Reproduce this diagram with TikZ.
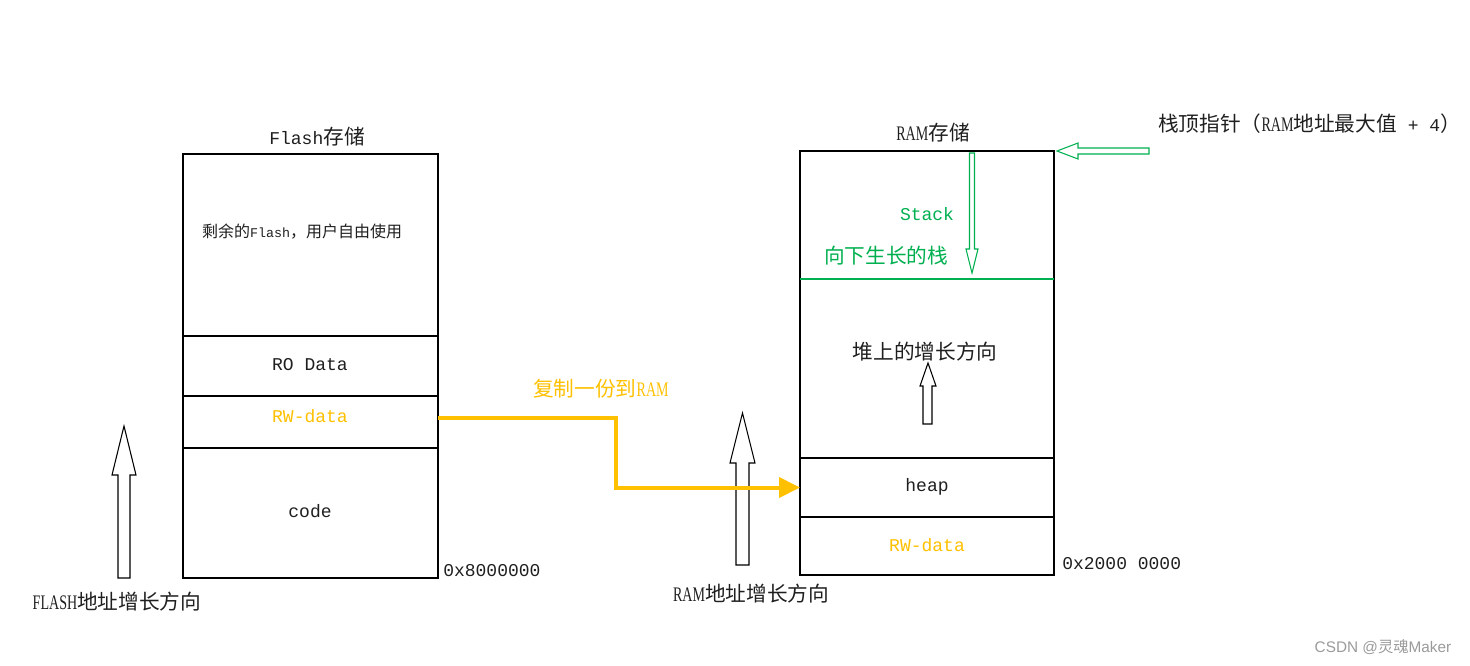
\documentclass[tikz,border=0pt]{standalone}
\usepackage{fontspec}
\setmainfont{Liberation Serif}
\setmonofont{Liberation Mono}
\setsansfont{Liberation Sans}
\newfontfamily\cjk{Noto Sans CJK SC}
\newfontfamily\narrowserif[FakeStretch=0.68]{Liberation Serif}
\newcommand\zh[1]{{\cjk\fontsize{15.5}{18}\selectfont #1}}
\newcommand\zhs[1]{{\cjk\fontsize{12}{14}\selectfont #1}}
\newcommand\lt[1]{{\narrowserif\fontsize{15.5}{18}\selectfont #1}}
\usetikzlibrary{arrows.meta,calc}
\definecolor{gold}{HTML}{FFC000}
\definecolor{grn}{HTML}{00B050}
\definecolor{wm}{HTML}{9A9A9A}
\begin{document}
\begin{tikzpicture}[x=0.75pt,y=-0.75pt,
  sect/.style={draw=black, line width=0.8pt, inner sep=0pt, outer sep=0pt, anchor=north west},
  flashw/.style={minimum width=191.25pt},
  ramw/.style={minimum width=190.5pt},
  lbl/.style={inner sep=0pt, text=black!88, font=\ttfamily\fontsize{13.5}{16}\selectfont},
  small/.style={inner sep=0pt, text=black!88, font=\ttfamily\fontsize{10}{12}\selectfont},
  hollow/.style={draw=black, line width=0.8pt, fill=white, line join=miter},
  ghollow/.style={draw=grn, line width=0.8pt, fill=white, line join=miter},
  conn/.style={draw=gold, line width=3pt, -{Triangle[length=15.75pt,width=15pt]}}
]
\useasboundingbox (0,0) rectangle (1470,665);

% Flash column
\node[sect, flashw, minimum height=136.5pt] (free) at (183,154) {};
\node[sect, flashw, minimum height=45pt] (ro) at (183,336) {};
\node[sect, flashw, minimum height=39pt] (rw) at (183,396) {};
\node[sect, flashw, minimum height=97.5pt] (code) at (183,448) {};

\node[lbl] (flashtitle) at (317,137) {Flash\zh{存储}};
\node[small] (freetext) at (302,232) {\zhs{剩余的}Flash\zhs{，用户自由使用}};
\node[lbl] (rotext) at (310,365) {RO Data};
\node[lbl, text=gold] (rwtext) at (310,416) {RW-data};
\node[lbl] (codetext) at (310,511) {code};
\node[lbl, anchor=west] (flashaddr) at (443,571) {0x8000000};

% Flash address arrow
\draw[hollow] (118,578) -- (118,475) -- (112,475) -- (124,426) -- (136,475) -- (130,475) -- (130,578) -- cycle;
\node[lbl] (flashdir) at (117,602) {\lt{FLASH}\zh{地址增长方向}};

% RAM column
\node[sect, ramw, minimum height=96pt] (stack) at (800,151) {};
\node[sect, ramw, minimum height=134.25pt] (heapgrow) at (800,279) {};
\node[sect, ramw, minimum height=44.25pt] (heap) at (800,458) {};
\node[sect, ramw, minimum height=43.5pt] (rwram) at (800,517) {};
\draw[grn, line width=0.8pt] (stack.south west) -- (stack.south east);

\node[lbl] (ramtitle) at (933,133) {\lt{RAM}\zh{存储}};
\node[lbl, text=grn] (stacktext) at (927,214) {Stack};
\node[lbl, text=grn] (downtext) at (886,256) {\zh{向下生长的栈}};
\node[lbl] (heapgrowtext) at (925,352) {\zh{堆上的增长方向}};
\node[lbl] (heaptext) at (927,487) {heap};
\node[lbl, text=gold] (rwramtext) at (927,545) {RW-data};
\node[lbl, anchor=west] (ramaddr) at (1062,564) {0x2000 0000};

% Stack down arrow (green)
\draw[ghollow] (969.5,153) -- (969.5,249) -- (966,249) -- (972,273) -- (978,249) -- (974.5,249) -- (974.5,153) -- cycle;
% Heap up arrow
\draw[hollow] (923,424) -- (923,386) -- (920,386) -- (928,363) -- (936,386) -- (932,386) -- (932,424) -- cycle;
% Stack pointer arrow (green, pointing left)
\draw[ghollow] (1149,148) -- (1078,148) -- (1078,143) -- (1057,151) -- (1078,159) -- (1078,154) -- (1149,154) -- cycle;
\node[lbl, anchor=west] (sptext) at (1158,124) {\zh{栈顶指针（}\lt{RAM}\zh{地址最大值} + 4\zh{）}};

% RAM address arrow
\draw[hollow] (736,565) -- (736,463) -- (730,463) -- (742.5,413) -- (755,463) -- (749,463) -- (749,565) -- cycle;
\node[lbl] (ramdir) at (751,594) {\lt{RAM}\zh{地址增长方向}};

% Copy connector
\draw[conn] ($(rw.east)+(0,-4)$) -- ++(178,0) |- (heap.west);
\node[lbl, text=gold] (copytext) at (601,389) {\zh{复制一份到}\lt{RAM}};

% watermark
\node[inner sep=0pt, text=wm, font=\sffamily\fontsize{11.5}{13}\selectfont] (wmark) at (1383,647) {CSDN @{\cjk 灵魂}Maker};
\end{tikzpicture}
\end{document}
